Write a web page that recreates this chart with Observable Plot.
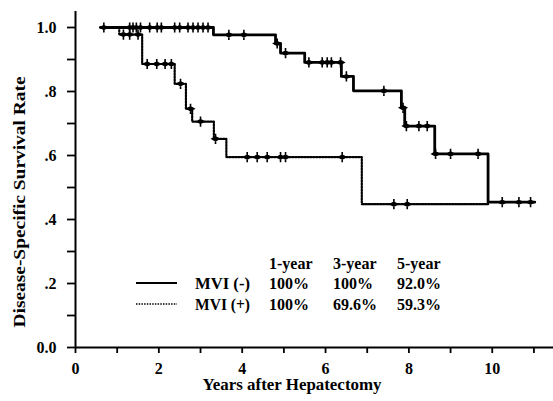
<!DOCTYPE html>
<html>
<head>
<meta charset="utf-8">
<script src="https://cdn.jsdelivr.net/npm/d3@7"></script>
<script src="https://cdn.jsdelivr.net/npm/@observablehq/plot@0.6"></script>
<style>
  body { margin: 0; background: white; }
  svg [aria-label*="axis"] path, svg [aria-label*="axis"] line { stroke-width: 1.8px; }
</style>
</head>
<body>
<div id="chart"></div>
<script>
// ---- data ----
const groups = ["MVI (-)", "MVI (+)"];
// Kaplan-Meier step points (time in years, survival)
const negTime = [0.6, 3.31, 4.8, 4.92, 5.5, 6.38, 6.67, 7.82, 7.9, 8.62, 9.9, 11.02];
const negSurv = [1.0, 0.977, 0.95, 0.92, 0.891, 0.847, 0.802, 0.749, 0.692, 0.605, 0.454, 0.454];
const posTime = [0.6, 1.05, 1.6, 2.38, 2.65, 2.8, 3.32, 3.62, 6.87, 9.9];
const posSurv = [1.0, 0.978, 0.886, 0.824, 0.746, 0.706, 0.652, 0.595, 0.448, 0.448];
// censored observations (time in years)
const negCensor = [0.68, 1.3, 1.38, 1.46, 1.56, 1.78, 1.96, 2.06, 2.38, 2.5, 2.7, 2.82, 2.94, 3.06, 3.18,
  3.68, 4.04, 4.84, 5.04, 5.6, 5.92, 6.04, 6.14, 6.36, 6.5, 7.4, 7.86, 7.94, 8.24, 8.44, 8.64, 9.0, 9.66,
  10.24, 10.64, 10.92];
const posCensor = [1.15, 1.3, 1.5, 1.72, 1.95, 2.15, 2.3, 2.52, 2.76, 3.0, 3.36, 4.12, 4.36, 4.6, 4.92, 5.04,
  6.4, 7.64, 7.96];
// axes
const xTicks = [0, 1, 2, 3, 4, 5, 6, 7, 8, 9, 10, 11];
const xTickLabels = ["0", "", "2", "", "4", "", "6", "", "8", "", "10", ""];
const yTicks = [0, 0.1, 0.2, 0.3, 0.4, 0.5, 0.6, 0.7, 0.8, 0.9, 1.0];
const yTickLabels = ["0.0", "", ".2", "", ".4", "", ".6", "", ".8", "", "1.0"];
const xLabel = "Years after Hepatectomy";
const yLabel = "Disease-Specific Survival Rate";
// table in legend
const tableHeaders = ["1-year", "3-year", "5-year"];
const tableNeg = ["100%", "100%", "92.0%"];
const tablePos = ["100%", "69.6%", "59.3%"];

// ---- helpers ----
const steps = (T, S) => T.map((t, i) => ({t, s: S[i]}));
const stepAt = (T, S, t) => { let s = S[0]; for (let i = 0; i < T.length; i++) if (T[i] <= t) s = S[i]; return s; };
const censorPts = (C, T, S) => C.map(t => ({t, s: stepAt(T, S, t)}));

const censorSymbol = {
  draw(ctx, size) {
    const r = Math.sqrt(size / Math.PI);
    ctx.moveTo(0, -r * 1.5); ctx.lineTo(0, r * 1.5);
    ctx.moveTo(-r, 0); ctx.lineTo(0, -r * 0.55); ctx.lineTo(r, 0); ctx.lineTo(0, r * 0.55); ctx.closePath();
  }
};

const font = "'Liberation Serif', 'Times New Roman', serif";

const chart = Plot.plot({
  width: 553, height: 401,
  marginLeft: 75, marginRight: 0, marginTop: 11, marginBottom: 54,
  style: {fontFamily: font, fontWeight: "bold", fontSize: "16px", color: "black", background: "white", overflow: "visible"},
  x: {domain: [0, 11.47], ticks: xTicks, tickFormat: d => xTickLabels[Math.round(d)], tickSize: 6, tickPadding: 9, label: null},
  y: {domain: [0, 1.05], ticks: yTicks, tickFormat: d => yTickLabels[Math.round(d * 10)], tickSize: 8, tickPadding: 11, label: null},
  marks: [
    Plot.ruleX([0], {stroke: "black", strokeWidth: 2}),
    Plot.ruleY([0], {stroke: "black", strokeWidth: 2}),
    Plot.line(steps(posTime, posSurv), {x: "t", y: "s", curve: "step-after", stroke: "black", strokeWidth: 2.2, strokeDasharray: "1.6,1.4"}),
    Plot.line(steps(negTime, negSurv), {x: "t", y: "s", curve: "step-after", stroke: "black", strokeWidth: 2.8}),
    Plot.dot(censorPts(posCensor, posTime, posSurv), {x: "t", y: "s", symbol: censorSymbol, r: 3.4, fill: "black", stroke: "black", strokeWidth: 1.6}),
    Plot.dot(censorPts(negCensor, negTime, negSurv), {x: "t", y: "s", symbol: censorSymbol, r: 3.4, fill: "black", stroke: "black", strokeWidth: 1.6})
  ]
});
document.getElementById("chart").appendChild(chart);

// ---- titles & legend ----
const svg = d3.select(chart);
const txt = (x, y, s, size, opts = {}) => {
  const t = svg.append("text").attr("x", x).attr("y", y).text(s)
    .attr("font-family", font).attr("font-weight", "bold").attr("font-size", size).attr("fill", "black")
    .attr("text-anchor", opts.anchor || "start");
  if (opts.len) t.attr("textLength", opts.len).attr("lengthAdjust", "spacingAndGlyphs");
  if (opts.rotate) t.attr("transform", `rotate(-90 ${x} ${y})`);
  return t;
};
txt(292, 390, xLabel, 16, {anchor: "middle", len: 179});
txt(25, 202, yLabel, 17, {anchor: "middle", len: 251, rotate: true});

// legend swatches
svg.append("line").attr("x1", 136).attr("x2", 177).attr("y1", 283).attr("y2", 283)
  .attr("stroke", "black").attr("stroke-width", 2);
svg.append("line").attr("x1", 136).attr("x2", 177).attr("y1", 304).attr("y2", 304)
  .attr("stroke", "black").attr("stroke-width", 1.6).attr("stroke-dasharray", "1.5,1.2");
txt(195, 289, groups[0], 16, {len: 55});
txt(195, 310, groups[1], 16, {len: 55});
const cols = [269, 333, 397];
tableHeaders.forEach((h, i) => txt(cols[i], 269, h, 16));
tableNeg.forEach((h, i) => txt(cols[i], 289, h, 16));
tablePos.forEach((h, i) => txt(cols[i], 310, h, 16));
</script>
</body>
</html>
